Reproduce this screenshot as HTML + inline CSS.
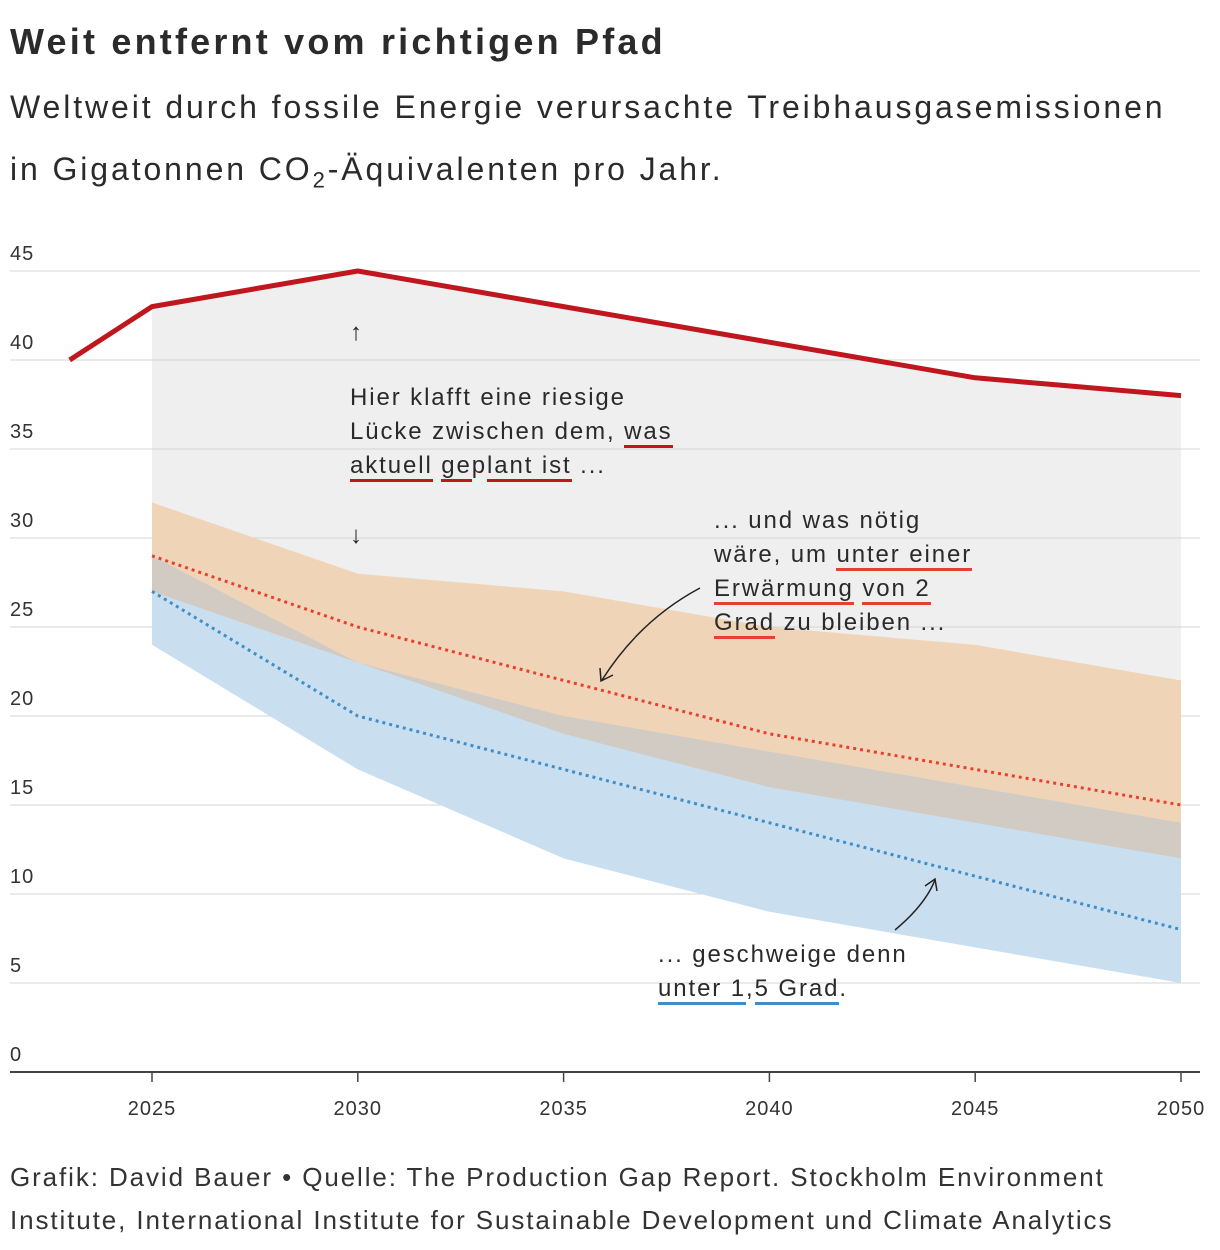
<!DOCTYPE html>
<html><head><meta charset="utf-8"><style>
body{margin:0;background:#fff;width:1220px;height:1250px;overflow:hidden;font-family:"Liberation Sans",sans-serif;color:#222}
.t{position:absolute;left:10px;margin:0}
.ann{position:absolute;font-size:24px;line-height:34px;color:#2a2a2a;white-space:nowrap;letter-spacing:1.9px}
.ur{border-bottom:3px solid #c0161e}
.uo{border-bottom:3px solid #e8402f}
.ub{border-bottom:3px solid #3f8ec9}
</style></head><body>
<h1 class="t" style="top:21px;font-size:36px;font-weight:bold;color:#2b2b2b;letter-spacing:3.2px">Weit entfernt vom richtigen Pfad</h1>
<div class="t" style="top:76px;font-size:32px;line-height:62px;color:#2b2b2b;letter-spacing:2.9px">Weltweit durch fossile Energie verursachte Treibhausgasemissionen<br>in Gigatonnen CO<sub style="font-size:22px">2</sub>-Äquivalenten pro Jahr.</div>
<svg id="chart" width="1220" height="1250" style="position:absolute;left:0;top:0" xmlns="http://www.w3.org/2000/svg"></svg>
<div class="ann" style="left:350px;top:381px">Hier klafft eine riesige<br>Lücke zwischen dem, <span class="ur">was</span><br><span class="ur">aktuell</span> <span class="ur">ge</span>p<span class="ur">lant ist</span> ...</div>
<div class="ann" style="left:714px;top:504px">... und was nötig<br>wäre, um <span class="uo">unter einer</span><br><span class="uo">Erwärmung</span> <span class="uo">von 2</span><br><span class="uo">Grad</span> zu bleiben ...</div>
<div class="ann" style="left:658px;top:938px">... geschweige denn<br><span class="ub">unter 1</span>,<span class="ub">5 Grad</span>.</div>
<div class="t" style="top:1156px;font-size:26px;line-height:43px;color:#333;letter-spacing:1.9px;white-space:nowrap">Grafik: David Bauer • Quelle: The Production Gap Report. Stockholm Environment<br>Institute, International Institute for Sustainable Development und Climate Analytics</div>
<script>
const years=[2025,2030,2035,2040,2045,2050];
const currentYears=[2023,2025,2030,2035,2040,2045,2050];
const currentPlans=[40,43,45,43,41,39,38];
const twoTop=[32,28,27,25,24,22];
const twoBottom=[27,23,19,16,14,12];
const twoMedian=[29,25,22,19,17,15];
const oneFiveTop=[29,23,20,18,16,14];
const oneFiveBottom=[24,17,12,9,7,5];
const oneFiveMedian=[27,20,17,14,11,8];
const yTicks=[0,5,10,15,20,25,30,35,40,45];
const xTicks=[2025,2030,2035,2040,2045,2050];
const X=v=>152+(v-2025)*41.16, Y=v=>1072-v*17.8;
const svg=document.getElementById('chart');const NS='http://www.w3.org/2000/svg';
function mk(t,a){const e=document.createElementNS(NS,t);for(const k in a)e.setAttribute(k,a[k]);svg.appendChild(e);return e;}
function area(xs,top,bot,fill,name){let p=xs.map((x,i)=>X(x)+','+Y(top[i]));p=p.concat(xs.map((x,i)=>X(x)+','+Y(bot[i])).reverse());const e=mk('polygon',{points:p.join(' '),fill:fill});

}
function line(xs,vs,attrs,name){const e=mk('polyline',Object.assign({points:xs.map((x,i)=>X(x)+','+Y(vs[i])).join(' '),fill:'none'},attrs));

}
const redAt=years.map(y=>currentPlans[currentYears.indexOf(y)]);
area(years,redAt,twoTop,'#efefef','gap-area');
yTicks.forEach(v=>{if(v>0){const g=mk('line',{x1:10,x2:1200,y1:Y(v),y2:Y(v),stroke:'#d4d4d4','stroke-width':1});

}
const t=mk('text',{x:10,y:Y(v)-11,'font-size':20,fill:'#333','font-family':'Liberation Sans','letter-spacing':1});t.textContent=v;

});
area(years,twoTop,twoBottom,'#f0d4b8','two-degree-band');
area(years,oneFiveTop,oneFiveBottom,'#c9dff0','one-five-degree-band');
area(years,oneFiveTop,twoBottom,'#d2cbc3','band-overlap');
line(years,twoMedian,{stroke:'#e8402f','stroke-width':3,'stroke-dasharray':'3 4'},'two-degree-median');
line(years,oneFiveMedian,{stroke:'#3f8ec9','stroke-width':3,'stroke-dasharray':'3 4'},'one-five-degree-median');
line(currentYears,currentPlans,{stroke:'#c0161e','stroke-width':5,'stroke-linejoin':'round'},'current-plans-line');
const ax=mk('line',{x1:10,x2:1200,y1:1072,y2:1072,stroke:'#444','stroke-width':2});


xTicks.forEach(v=>{const l=mk('line',{x1:X(v),x2:X(v),y1:1072,y2:1082,stroke:'#444','stroke-width':1.5});


const t=mk('text',{x:X(v),y:1115,'font-size':20,fill:'#333','text-anchor':'middle','font-family':'Liberation Sans','letter-spacing':1});t.textContent=v;

});
const a1=mk('text',{x:356,y:340,'font-size':24,fill:'#222','text-anchor':'middle'});a1.textContent='↑';


const a2=mk('text',{x:356,y:543,'font-size':24,fill:'#222','text-anchor':'middle'});a2.textContent='↓';


const c1=mk('path',{d:'M700 588 Q640 620 602 680',fill:'none',stroke:'#222','stroke-width':1.5});


const h1=mk('path',{d:'M600 668 L601 681 L613 675',fill:'none',stroke:'#222','stroke-width':1.5});


const c2=mk('path',{d:'M895 930 Q925 905 935 880',fill:'none',stroke:'#222','stroke-width':1.5});


const h2=mk('path',{d:'M925 886 L935 879 L937 891',fill:'none',stroke:'#222','stroke-width':1.5});


</script>
</body></html>
